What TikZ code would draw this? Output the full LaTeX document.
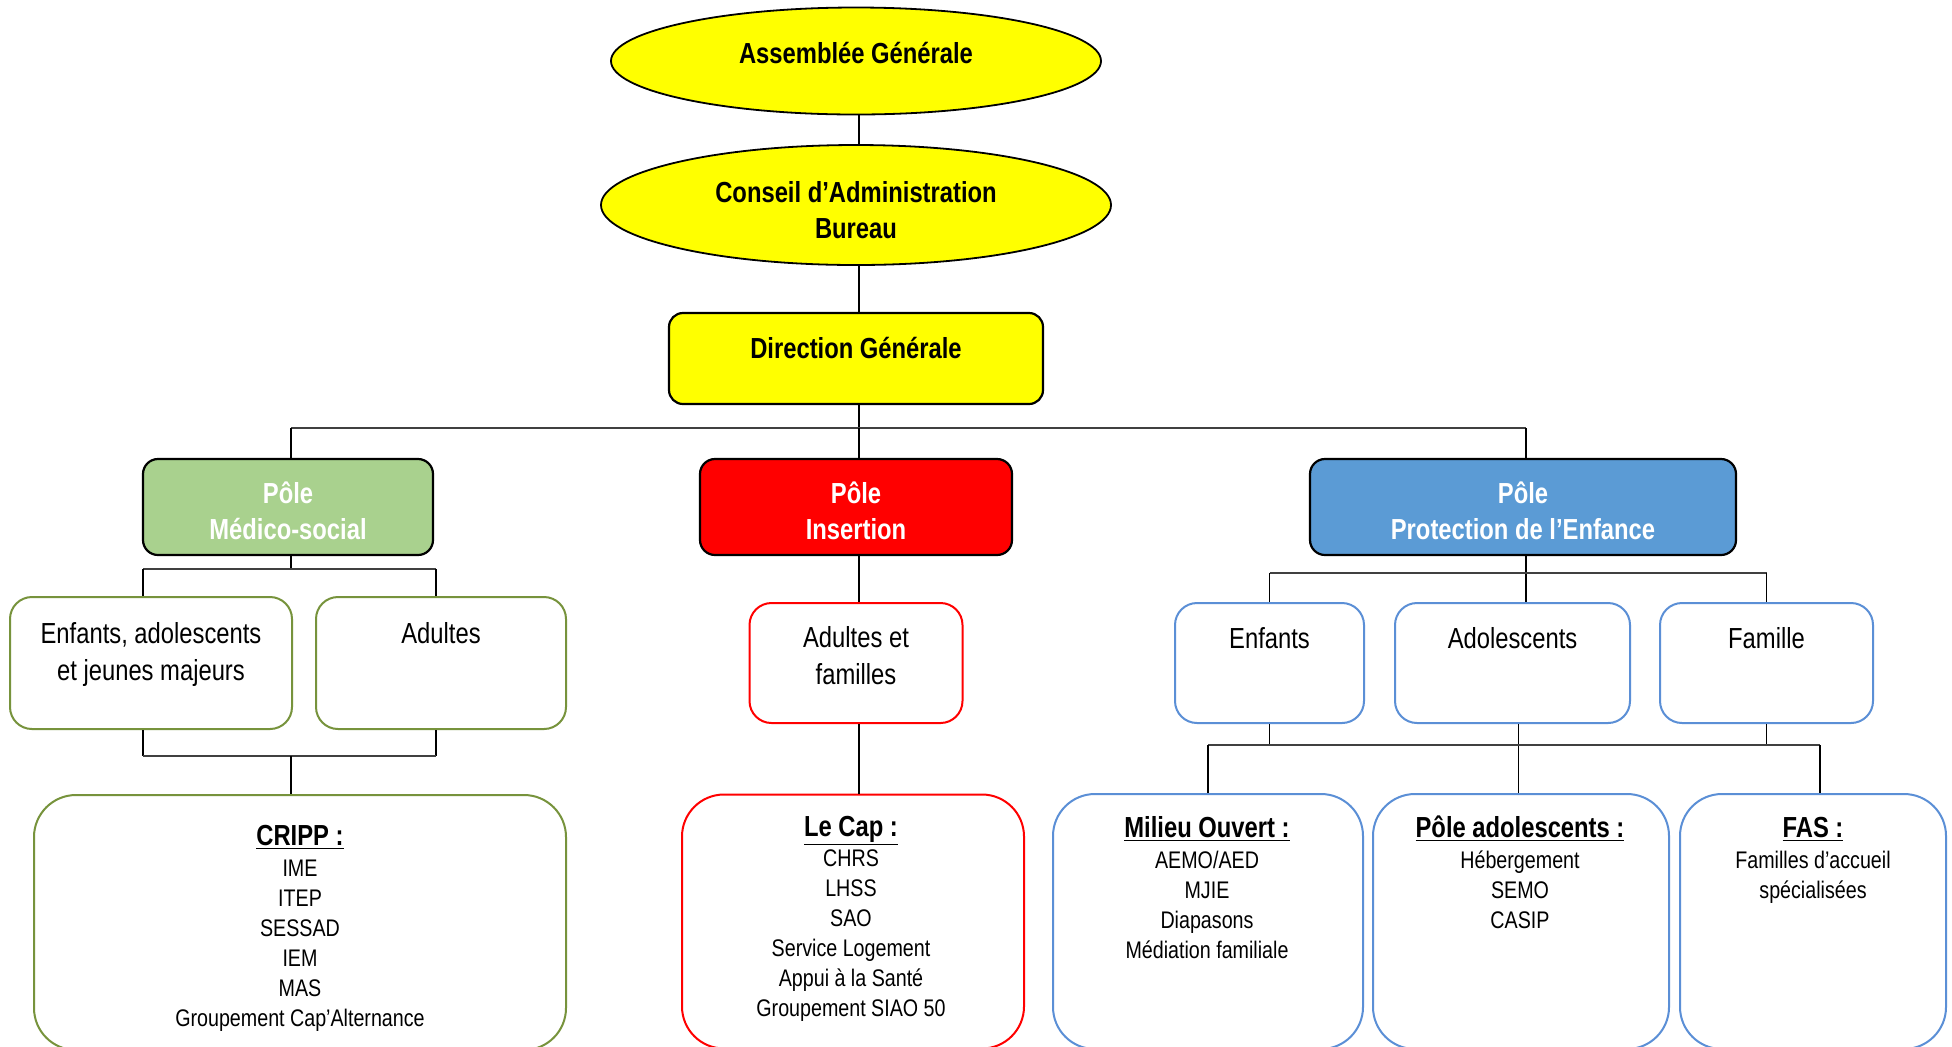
\documentclass[tikz,border=0pt]{standalone}
\usepackage{fontspec}
\setmainfont[FakeStretch=0.82]{Liberation Sans}
\usetikzlibrary{shapes.geometric}
\definecolor{ylw}{HTML}{FFFF00}
\definecolor{grn}{HTML}{A9D18E}
\definecolor{grnd}{HTML}{77933C}
\definecolor{rd}{HTML}{FF0000}
\definecolor{blu}{HTML}{5B9BD5}
\definecolor{blud}{HTML}{5B8FD6}
\begin{document}
\begin{tikzpicture}[x=0.5pt,y=-0.5pt,
  ell/.style={ellipse, draw=black, line width=0.9pt, fill=ylw, inner sep=0pt},
  dgbox/.style={rectangle, rounded corners=7pt, draw=black, line width=1.1pt, fill=ylw, inner sep=0pt},
  polebox/.style={rectangle, rounded corners=7.5pt, draw=black, line width=1.1pt, inner sep=0pt},
  poletxt/.style={text=white, font=\bfseries\fontsize{14.5}{18}\selectfont, align=center, inner sep=0pt},
  subbox/.style={rectangle, rounded corners=11pt, line width=1pt, fill=white, inner sep=0pt},
  bigbox/.style={rectangle, rounded corners=21pt, line width=1pt, fill=white, inner sep=0pt},
  boldtxt/.style={font=\bfseries\fontsize{14.5}{18}\selectfont, inner sep=0pt, align=center},
  subtxt/.style={font=\fontsize{14.5}{18.5}\selectfont, inner sep=0pt, align=center},
  ttl/.style={font=\bfseries\fontsize{14.5}{18}\selectfont, inner sep=0pt, anchor=base},
  lst/.style={font=\fontsize{12}{15}\selectfont, inner sep=0pt, align=center, anchor=north},
  conn/.style={line width=0.65pt, black},
  busline/.style={line width=0.9pt, black!75}]
\useasboundingbox[fill=white] (0,0) rectangle (1952,1046);

% top
\node[ell, minimum width=245pt, minimum height=53.5pt] (ag) at (856,61) {};
\node[boldtxt, anchor=base] (agt) at (856,63) {Assemblée Générale};
\node[ell, minimum width=255pt, minimum height=60pt] (ca) at (856,205) {};
\node[boldtxt, anchor=north] (cat) at (856,177) {\strut Conseil d’Administration\\Bureau};
\node[dgbox, minimum width=187pt, minimum height=45.5pt] (dg) at (856,358.5) {};
\node[boldtxt, anchor=base] (dgt) at (856,358) {Direction Générale};

% poles
\node[polebox, fill=grn, minimum width=145pt, minimum height=48pt] (pm) at (288,507) {};
\node[poletxt] (pmt) at (288,511) {Pôle\\Médico-social};
\node[polebox, fill=rd, minimum width=156pt, minimum height=48pt] (pi) at (856,507) {};
\node[poletxt] (pit) at (856,511) {Pôle\\Insertion};
\node[polebox, fill=blu, minimum width=213pt, minimum height=48pt] (pp) at (1523,507) {};
\node[poletxt] (ppt) at (1523,511) {Pôle\\Protection de l’Enfance};

% sub boxes
\node[subbox, draw=grnd, minimum width=141pt, minimum height=66pt] (me) at (151,663) {};
\node[subtxt, anchor=north] (met) at (151,617) {\strut Enfants, adolescents\\et jeunes majeurs};
\node[subbox, draw=grnd, minimum width=125pt, minimum height=66pt] (ma) at (441,663) {};
\node[subtxt, anchor=base] (mat) at (441,643) {Adultes};
\node[subbox, draw=rd, minimum width=106.5pt, minimum height=60pt] (ia) at (856,663) {};
\node[subtxt, anchor=north] (iat) at (856,621) {\strut Adultes et\\familles};
\node[subbox, draw=blud, minimum width=94.5pt, minimum height=60pt] (pe) at (1269.5,663) {};
\node[subtxt, anchor=base] (pet) at (1269.5,648) {Enfants};
\node[subbox, draw=blud, minimum width=117.5pt, minimum height=60pt] (pa) at (1512.5,663) {};
\node[subtxt, anchor=base] (pat) at (1512.5,648) {Adolescents};
\node[subbox, draw=blud, minimum width=106.5pt, minimum height=60pt] (pf) at (1766.5,663) {};
\node[subtxt, anchor=base] (pft) at (1766.5,648) {Famille};

% big boxes
\node[bigbox, draw=grnd, minimum width=266pt, minimum height=127.5pt] (cr) at (300,922.5) {};
\node[ttl] (crt) at (300,845) {\underline{CRIPP :}};
\node[lst] (crl) at (300,855) {\strut IME\\ITEP\\SESSAD\\IEM\\MAS\\Groupement Cap’Alternance};

\node[bigbox, draw=rd, minimum width=171pt, minimum height=127pt] (lc) at (853,921.5) {};
\node[ttl] (lct) at (851,836) {\underline{Le Cap :}};
\node[lst] (lcl) at (851,845) {\strut CHRS\\LHSS\\SAO\\Service Logement\\Appui à la Santé\\Groupement SIAO 50};

\node[bigbox, draw=blud, minimum width=155pt, minimum height=127.5pt] (mo) at (1208,921.5) {};
\node[ttl] (mot) at (1207,837) {\underline{Milieu Ouvert :}};
\node[lst] (mol) at (1207,847) {\strut AEMO/AED\\MJIE\\Diapasons\\Médiation familiale};

\node[bigbox, draw=blud, minimum width=148pt, minimum height=127.5pt] (pad) at (1521,921.5) {};
\node[ttl] (padt) at (1520,837) {\underline{Pôle adolescents :}};
\node[lst] (padl) at (1520,847) {\strut Hébergement\\SEMO\\CASIP};

\node[bigbox, draw=blud, minimum width=133pt, minimum height=127.5pt] (fs) at (1813,921.5) {};
\node[ttl] (fst) at (1813,837) {\underline{FAS :}};
\node[lst] (fsl) at (1813,847) {\strut Familles d’accueil\\spécialisées};

% helper coordinates
\coordinate (bus0) at (0,428);
\coordinate (busM) at (0,569);
\coordinate (busMl) at (0,756);
\coordinate (busP) at (0,573);
\coordinate (busPl) at (0,745);
\coordinate (cX) at ([xshift=1.5pt]dg.center);
\coordinate (pmX) at ([xshift=1.5pt]pm.center);
\coordinate (ppX) at ([xshift=1.5pt]pp.center);
\coordinate (paX) at ([xshift=3pt]pa.center);
\coordinate (meX) at ([xshift=-4pt]me.north);
\coordinate (maX) at ([xshift=-2.5pt]ma.north);
\coordinate (fsX) at ([xshift=3.5pt]fs.north);

% connectors top
\draw[conn] (cX |- ag.south) -- (cX |- ca.north);
\draw[conn] (cX |- ca.south) -- (cX |- dg.north);
\draw[conn] (cX |- dg.south) -- (cX |- bus0);
\draw[busline] (pmX |- bus0) -- (ppX |- bus0);
\draw[conn] (pmX |- bus0) -- (pmX |- pm.north);
\draw[conn] (cX |- bus0) -- (cX |- pi.north);
\draw[conn] (ppX |- bus0) -- (ppX |- pp.north);

% medico
\draw[conn] (pmX |- pm.south) -- (pmX |- busM);
\draw[busline] (meX |- busM) -- (maX |- busM);
\draw[conn] (meX |- busM) -- (meX |- me.north);
\draw[conn] (maX |- busM) -- (maX |- ma.north);
\draw[conn] (meX |- me.south) -- (meX |- busMl);
\draw[conn] (maX |- ma.south) -- (maX |- busMl);
\draw[busline] (meX |- busMl) -- (maX |- busMl);
\draw[conn] (pmX |- busMl) -- (pmX |- cr.north);

% insertion
\draw[conn] (cX |- pi.south) -- (cX |- ia.north);
\draw[conn] (cX |- ia.south) -- (cX |- lc.north);

% protection
\draw[conn] (ppX |- pp.south) -- (ppX |- pa.north);
\draw[busline] (pe.north |- busP) -- (pf.north |- busP);
\draw[conn] (pe.north |- busP) -- (pe.north);
\draw[conn] (pf.north |- busP) -- (pf.north);
\draw[conn] (pe.south) -- (pe.south |- busPl);
\draw[conn] (pf.south) -- (pf.south |- busPl);
\draw[conn] (paX |- pa.south) -- (paX |- pad.north);
\draw[busline] (mo.north |- busPl) -- (fsX |- busPl);
\draw[conn] (mo.north |- busPl) -- (mo.north);
\draw[conn] (fsX |- busPl) -- (fsX |- fs.north);
\end{tikzpicture}
\end{document}
